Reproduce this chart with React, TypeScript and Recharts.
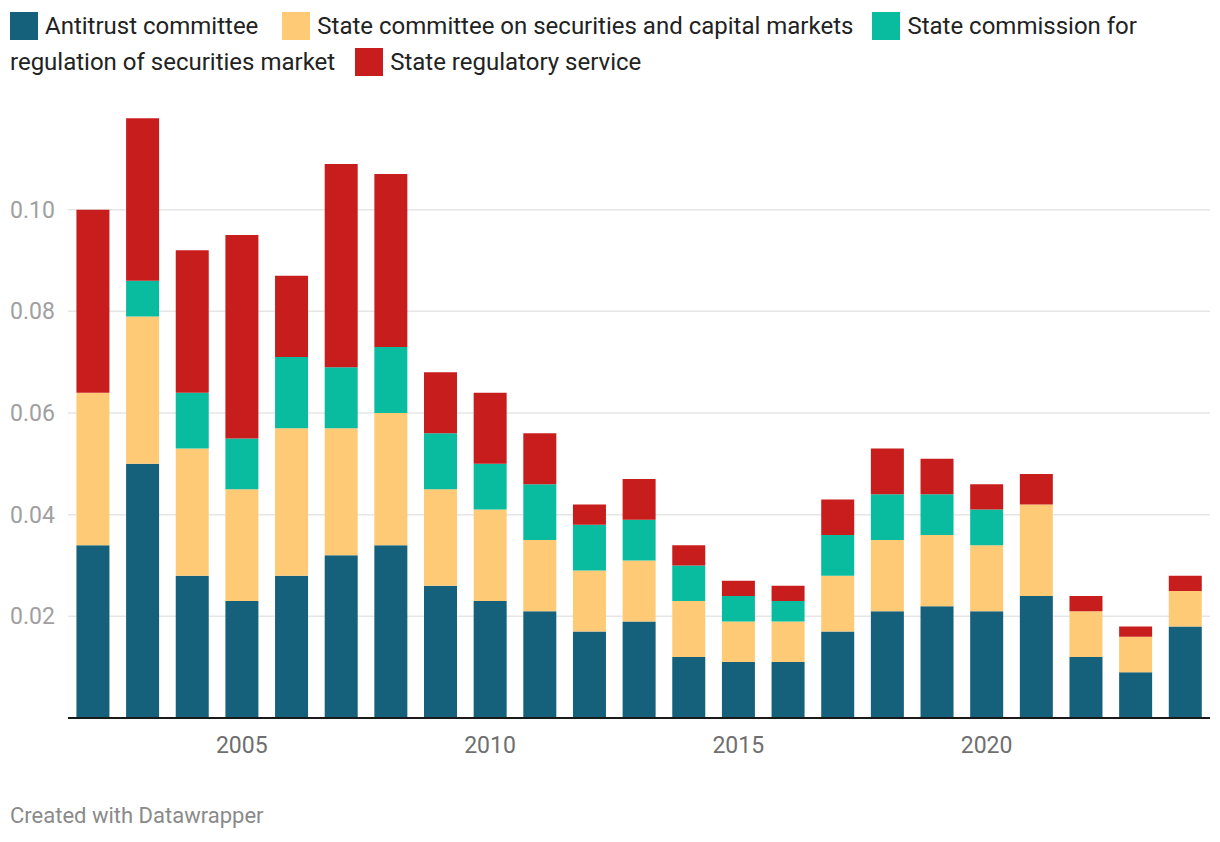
import React from "react";
import { BarChart, Bar, XAxis, YAxis, CartesianGrid } from "recharts";

const years = [2002, 2003, 2004, 2005, 2006, 2007, 2008, 2009, 2010, 2011, 2012, 2013, 2014, 2015, 2016, 2017, 2018, 2019, 2020, 2021, 2022, 2023, 2024];
const antitrust = [0.034, 0.05, 0.028, 0.023, 0.028, 0.032, 0.034, 0.026, 0.023, 0.021, 0.017, 0.019, 0.012, 0.011, 0.011, 0.017, 0.021, 0.022, 0.021, 0.024, 0.012, 0.009, 0.018];
const securitiesCommittee = [0.03, 0.029, 0.025, 0.022, 0.029, 0.025, 0.026, 0.019, 0.018, 0.014, 0.012, 0.012, 0.011, 0.008, 0.008, 0.011, 0.014, 0.014, 0.013, 0.018, 0.009, 0.007, 0.007];
const securitiesCommission = [0, 0.007, 0.011, 0.01, 0.014, 0.012, 0.013, 0.011, 0.009, 0.011, 0.009, 0.008, 0.007, 0.005, 0.004, 0.008, 0.009, 0.008, 0.007, 0, 0, 0, 0];
const regulatoryService = [0.036, 0.032, 0.028, 0.04, 0.016, 0.04, 0.034, 0.012, 0.014, 0.01, 0.004, 0.008, 0.004, 0.003, 0.003, 0.007, 0.009, 0.007, 0.005, 0.006, 0.003, 0.002, 0.003];
const yTicks = [0.02, 0.04, 0.06, 0.08, 0.1];
const xLabels = [2005, 2010, 2015, 2020];

const seriesNames = [
  "Antitrust committee",
  "State committee on securities and capital markets",
  "State commission for regulation of securities market",
  "State regulatory service",
];
const colors = ["#15607a", "#ffca76", "#09bb9f", "#c71e1d"];

const data = years.map((year, i) => ({
  year,
  a: antitrust[i],
  b: securitiesCommittee[i],
  c: securitiesCommission[i],
  d: regulatoryService[i],
}));

const font = "Roboto, 'Noto Sans', sans-serif";

const Swatch = ({ color }: { color: string }) => (
  <span style={{ display: "inline-block", width: 28, height: 28, background: color, marginRight: 7, flex: "none" }} />
);

const YTick = (props: any) => {
  const { y, payload } = props;
  return (
    <text x={10} y={y} dy="0.35em" textAnchor="start" fill="#a0a0a0" fontSize={23} fontFamily={font}>
      {payload.value.toFixed(2)}
    </text>
  );
};

const XTick = (props: any) => {
  const { x, y, payload } = props;
  if (!xLabels.includes(payload.value)) return null;
  return (
    <text x={x} y={y + 19} dy="0.35em" textAnchor="middle" fill="#6f6f6f" fontSize={23} fontFamily={font}>
      {payload.value}
    </text>
  );
};

const row: React.CSSProperties = { display: "flex", alignItems: "center", height: 36, whiteSpace: "nowrap" };

export default function App() {
  return (
    <div style={{ position: "absolute", left: 0, top: 0, width: 1220, height: 842, background: "#fff", fontFamily: font }}>
      <div style={{ position: "absolute", left: 10, top: 8, fontSize: 24, color: "#222" }}>
        <div style={row}>
          <Swatch color={colors[0]} />
          <span style={{ marginRight: 24 }}>{seriesNames[0]}</span>
          <Swatch color={colors[1]} />
          <span style={{ marginRight: 19 }}>{seriesNames[1]}</span>
          <Swatch color={colors[2]} />
          <span>State commission for</span>
        </div>
        <div style={row}>
          <span style={{ marginRight: 20 }}>regulation of securities market</span>
          <Swatch color={colors[3]} />
          <span>{seriesNames[3]}</span>
        </div>
      </div>
      <div style={{ position: "absolute", left: 0, top: 0 }}>
        <BarChart width={1220} height={842} data={data} margin={{ top: 108, right: 10, bottom: 0, left: 0 }} barCategoryGap="17%">
          <CartesianGrid horizontal vertical={false} horizontalValues={yTicks} stroke="#e6e6e6" strokeWidth={1.5} />
          <YAxis
            domain={[0, 0.12]}
            ticks={yTicks}
            width={68}
            axisLine={false}
            tickLine={false}
            tick={<YTick />}
          />
          <XAxis
            dataKey="year"
            height={124}
            interval={0}
            tickLine={false}
            axisLine={{ stroke: "#1a1a1a", strokeWidth: 2 }}
            tick={<XTick />}
          />
          <Bar dataKey="a" name={seriesNames[0]} stackId="s" fill={colors[0]} isAnimationActive={false} />
          <Bar dataKey="b" name={seriesNames[1]} stackId="s" fill={colors[1]} isAnimationActive={false} />
          <Bar dataKey="c" name={seriesNames[2]} stackId="s" fill={colors[2]} isAnimationActive={false} />
          <Bar dataKey="d" name={seriesNames[3]} stackId="s" fill={colors[3]} isAnimationActive={false} />
        </BarChart>
      </div>
      <div style={{ position: "absolute", left: 10, top: 803, fontSize: 22, color: "#8a8a8a" }}>Created with Datawrapper</div>
    </div>
  );
}
